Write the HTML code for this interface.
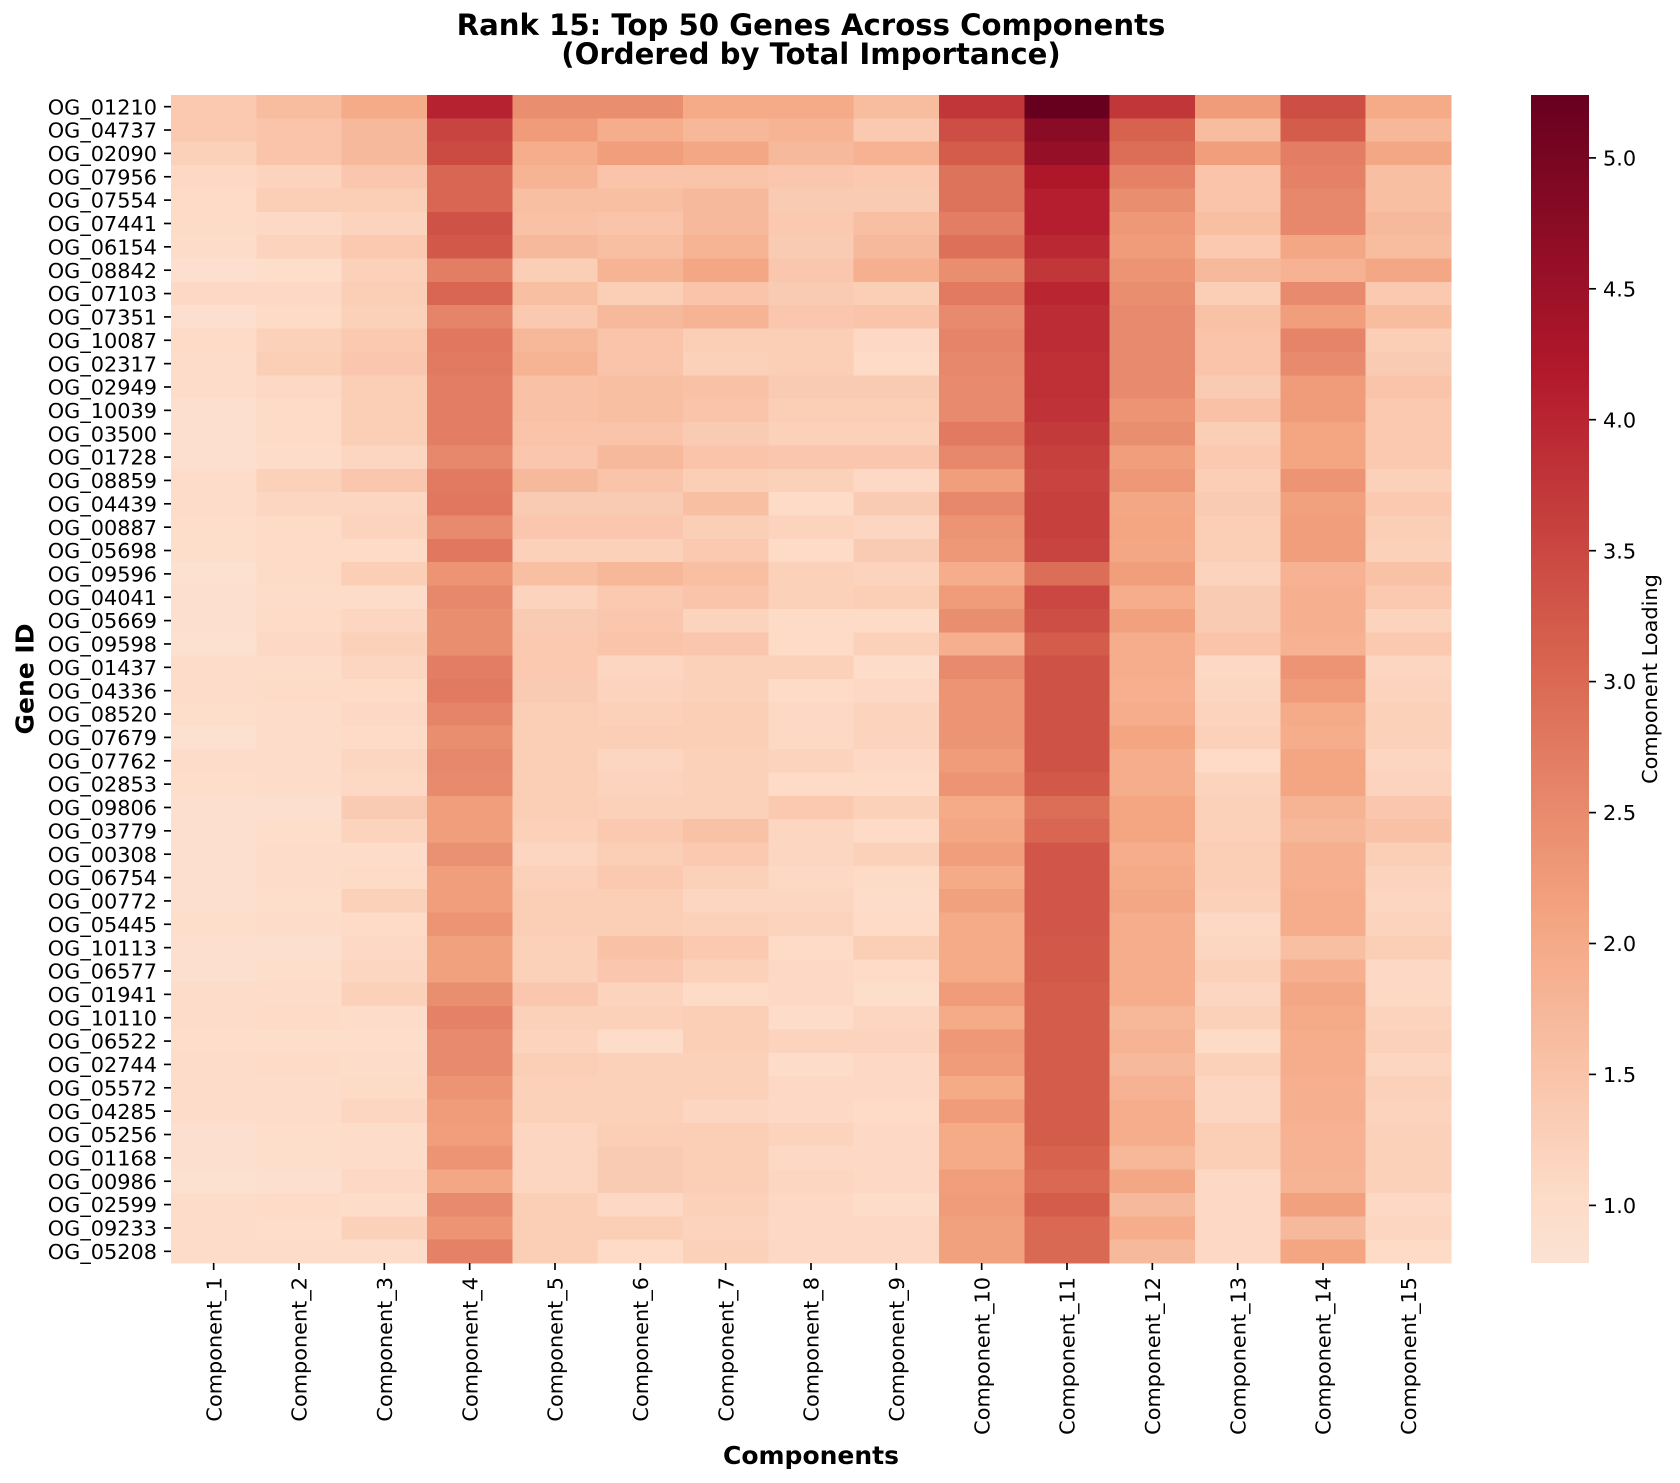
<!DOCTYPE html>
<html>
<head>
<meta charset="utf-8">
<style>
  html, body { margin: 0; padding: 0; background: #ffffff; }
  svg { display: block; }
  text { font-family: "DejaVu Sans", "Liberation Sans", sans-serif; fill: #000; }
  .tk { font-size: 20.83px; }
  .ttl { font-size: 29.17px; font-weight: bold; }
  .lab { font-size: 25px; font-weight: bold; }
</style>
</head>
<body>
<svg id="fig" width="1680" height="1483" viewBox="0 0 1680 1483" xmlns="http://www.w3.org/2000/svg">
  <defs>
    <linearGradient id="cbg" x1="0" y1="0" x2="0" y2="1">
      <stop offset="0" stop-color="#67001f"/>
      <stop offset="0.235" stop-color="#b2182b"/>
      <stop offset="0.47" stop-color="#d6604d"/>
      <stop offset="0.705" stop-color="#f4a582"/>
      <stop offset="0.94" stop-color="#fddbc7"/>
      <stop offset="1" stop-color="#fbe2d3"/>
    </linearGradient>
  </defs>
  <rect x="0" y="0" width="1680" height="1483" fill="#ffffff"/>

  <!-- Title -->
  <text class="ttl" x="811" y="35" text-anchor="middle">Rank 15: Top 50 Genes Across Components</text>
  <text class="ttl" x="811" y="64" text-anchor="middle">(Ordered by Total Importance)</text>

  <!-- heatmap cells -->
  <g id="cells" shape-rendering="crispEdges"></g>
  <!-- ticks -->
  <g id="ticks" stroke="#000" stroke-width="1.67"></g>

  <!-- Y tick labels -->
  <g class="tk" text-anchor="end">
    <text x="157" y="114.3">OG_01210</text>
    <text x="157" y="137.7">OG_04737</text>
    <text x="157" y="161.0">OG_02090</text>
    <text x="157" y="184.4">OG_07956</text>
    <text x="157" y="207.7">OG_07554</text>
    <text x="157" y="231.1">OG_07441</text>
    <text x="157" y="254.5">OG_06154</text>
    <text x="157" y="277.8">OG_08842</text>
    <text x="157" y="301.2">OG_07103</text>
    <text x="157" y="324.5">OG_07351</text>
    <text x="157" y="347.9">OG_10087</text>
    <text x="157" y="371.3">OG_02317</text>
    <text x="157" y="394.6">OG_02949</text>
    <text x="157" y="418.0">OG_10039</text>
    <text x="157" y="441.3">OG_03500</text>
    <text x="157" y="464.7">OG_01728</text>
    <text x="157" y="488.1">OG_08859</text>
    <text x="157" y="511.4">OG_04439</text>
    <text x="157" y="534.8">OG_00887</text>
    <text x="157" y="558.1">OG_05698</text>
    <text x="157" y="581.5">OG_09596</text>
    <text x="157" y="604.9">OG_04041</text>
    <text x="157" y="628.2">OG_05669</text>
    <text x="157" y="651.6">OG_09598</text>
    <text x="157" y="674.9">OG_01437</text>
    <text x="157" y="698.3">OG_04336</text>
    <text x="157" y="721.7">OG_08520</text>
    <text x="157" y="745.0">OG_07679</text>
    <text x="157" y="768.4">OG_07762</text>
    <text x="157" y="791.7">OG_02853</text>
    <text x="157" y="815.1">OG_09806</text>
    <text x="157" y="838.5">OG_03779</text>
    <text x="157" y="861.8">OG_00308</text>
    <text x="157" y="885.2">OG_06754</text>
    <text x="157" y="908.5">OG_00772</text>
    <text x="157" y="931.9">OG_05445</text>
    <text x="157" y="955.3">OG_10113</text>
    <text x="157" y="978.6">OG_06577</text>
    <text x="157" y="1002.0">OG_01941</text>
    <text x="157" y="1025.3">OG_10110</text>
    <text x="157" y="1048.7">OG_06522</text>
    <text x="157" y="1072.1">OG_02744</text>
    <text x="157" y="1095.4">OG_05572</text>
    <text x="157" y="1118.8">OG_04285</text>
    <text x="157" y="1142.1">OG_05256</text>
    <text x="157" y="1165.5">OG_01168</text>
    <text x="157" y="1188.9">OG_00986</text>
    <text x="157" y="1212.2">OG_02599</text>
    <text x="157" y="1235.6">OG_09233</text>
    <text x="157" y="1258.9">OG_05208</text>
  </g>

  <!-- X tick labels -->
  <g class="tk" text-anchor="end">
    <text transform="translate(221.3,1277) rotate(-90)">Component_1</text>
    <text transform="translate(306.6,1277) rotate(-90)">Component_2</text>
    <text transform="translate(391.9,1277) rotate(-90)">Component_3</text>
    <text transform="translate(477.3,1277) rotate(-90)">Component_4</text>
    <text transform="translate(562.6,1277) rotate(-90)">Component_5</text>
    <text transform="translate(647.9,1277) rotate(-90)">Component_6</text>
    <text transform="translate(733.3,1277) rotate(-90)">Component_7</text>
    <text transform="translate(818.6,1277) rotate(-90)">Component_8</text>
    <text transform="translate(903.9,1277) rotate(-90)">Component_9</text>
    <text transform="translate(989.3,1277) rotate(-90)">Component_10</text>
    <text transform="translate(1074.6,1277) rotate(-90)">Component_11</text>
    <text transform="translate(1159.9,1277) rotate(-90)">Component_12</text>
    <text transform="translate(1245.3,1277) rotate(-90)">Component_13</text>
    <text transform="translate(1330.6,1277) rotate(-90)">Component_14</text>
    <text transform="translate(1415.9,1277) rotate(-90)">Component_15</text>
  </g>

  <!-- Axis labels -->
  <text class="lab" x="811" y="1464" text-anchor="middle">Components</text>
  <text class="lab" transform="translate(33.5,679) rotate(-90)" text-anchor="middle">Gene ID</text>

  <!-- Colorbar -->
  <rect x="1531" y="95" width="58" height="1168" fill="url(#cbg)"/>
  <g stroke="#000" stroke-width="1.67">
    <line x1="1589" y1="157.9" x2="1596" y2="157.9"/>
    <line x1="1589" y1="288.8" x2="1596" y2="288.8"/>
    <line x1="1589" y1="419.7" x2="1596" y2="419.7"/>
    <line x1="1589" y1="550.7" x2="1596" y2="550.7"/>
    <line x1="1589" y1="681.6" x2="1596" y2="681.6"/>
    <line x1="1589" y1="812.6" x2="1596" y2="812.6"/>
    <line x1="1589" y1="943.5" x2="1596" y2="943.5"/>
    <line x1="1589" y1="1074.4" x2="1596" y2="1074.4"/>
    <line x1="1589" y1="1205.4" x2="1596" y2="1205.4"/>
  </g>
  <g class="tk">
    <text x="1603" y="165.5">5.0</text>
    <text x="1603" y="296.4">4.5</text>
    <text x="1603" y="427.3">4.0</text>
    <text x="1603" y="558.3">3.5</text>
    <text x="1603" y="689.2">3.0</text>
    <text x="1603" y="820.2">2.5</text>
    <text x="1603" y="951.1">2.0</text>
    <text x="1603" y="1082.0">1.5</text>
    <text x="1603" y="1213.0">1.0</text>
  </g>
  <text class="tk" transform="translate(1657,679) rotate(-90)" text-anchor="middle">Component Loading</text>
</svg>

<script>
(function(){
  var V = [
  [1.4,1.65,2.0,4.05,2.45,2.45,2.0,2.0,1.65,3.75,5.24,3.75,2.25,3.4,2.0],
  [1.4,1.5,1.7,3.55,2.25,1.95,1.75,1.8,1.4,3.4,4.75,3.1,1.65,3.2,1.75],
  [1.25,1.5,1.7,3.45,1.95,2.2,2.05,1.7,1.85,3.2,4.6,2.95,2.2,2.7,2.05],
  [1.1,1.2,1.45,3.05,1.8,1.5,1.5,1.45,1.4,2.85,4.25,2.65,1.5,2.65,1.6],
  [1.05,1.3,1.3,3.05,1.6,1.6,1.7,1.35,1.35,2.85,4.1,2.45,1.5,2.55,1.6],
  [1.05,1.1,1.2,3.35,1.55,1.5,1.7,1.4,1.6,2.7,4.1,2.3,1.6,2.55,1.7],
  [1.0,1.2,1.4,3.25,1.7,1.6,1.8,1.35,1.7,2.9,3.95,2.25,1.4,2.05,1.65],
  [0.9,0.95,1.25,2.7,1.3,1.8,2.05,1.45,1.9,2.45,3.75,2.35,1.7,1.85,2.05],
  [1.1,1.1,1.3,3.05,1.6,1.3,1.5,1.35,1.3,2.75,4.0,2.45,1.3,2.5,1.4],
  [0.9,1.05,1.25,2.6,1.4,1.7,1.8,1.45,1.5,2.5,3.9,2.5,1.55,2.2,1.65],
  [1.05,1.25,1.4,2.8,1.75,1.5,1.3,1.3,1.1,2.6,3.9,2.5,1.5,2.6,1.3],
  [1.0,1.3,1.45,2.75,1.8,1.5,1.25,1.3,1.05,2.55,3.85,2.5,1.5,2.5,1.35],
  [1.0,1.1,1.3,2.7,1.55,1.6,1.55,1.35,1.35,2.5,3.85,2.5,1.35,2.25,1.5],
  [0.9,1.05,1.3,2.7,1.55,1.6,1.5,1.3,1.3,2.5,3.8,2.35,1.55,2.25,1.4],
  [0.9,1.05,1.3,2.7,1.5,1.5,1.35,1.25,1.25,2.75,3.7,2.45,1.3,2.1,1.4],
  [0.9,1.0,1.15,2.55,1.45,1.7,1.5,1.45,1.45,2.55,3.6,2.2,1.4,2.1,1.4],
  [1.0,1.25,1.45,2.75,1.7,1.5,1.3,1.25,1.1,2.2,3.55,2.3,1.3,2.35,1.25],
  [1.0,1.15,1.15,2.8,1.35,1.35,1.6,1.05,1.35,2.55,3.6,2.05,1.35,2.15,1.4],
  [0.95,1.05,1.2,2.5,1.45,1.45,1.3,1.2,1.15,2.35,3.6,2.1,1.3,2.2,1.3],
  [0.95,1.05,1.05,2.8,1.25,1.25,1.4,1.05,1.35,2.3,3.55,2.05,1.3,2.2,1.25],
  [0.85,1.05,1.3,2.35,1.6,1.75,1.6,1.25,1.2,1.95,2.95,2.2,1.2,1.85,1.55],
  [0.9,1.0,1.0,2.55,1.2,1.4,1.5,1.25,1.3,2.25,3.5,1.95,1.35,1.9,1.4],
  [0.9,1.05,1.15,2.45,1.35,1.45,1.2,1.05,1.05,2.45,3.4,2.15,1.35,1.9,1.2],
  [0.85,1.1,1.25,2.45,1.4,1.5,1.45,1.05,1.25,1.9,3.2,1.95,1.5,1.85,1.4],
  [1.0,1.0,1.15,2.7,1.4,1.15,1.25,1.25,1.0,2.5,3.35,1.95,1.1,2.35,1.15],
  [1.0,1.05,1.05,2.75,1.35,1.2,1.25,1.05,1.1,2.35,3.35,1.9,1.15,2.25,1.2],
  [0.95,1.0,1.1,2.6,1.3,1.25,1.3,1.1,1.2,2.35,3.35,1.95,1.2,2.0,1.25],
  [0.85,1.0,1.05,2.45,1.3,1.3,1.3,1.1,1.2,2.35,3.35,2.1,1.25,1.95,1.25],
  [1.0,1.0,1.15,2.55,1.3,1.15,1.25,1.2,1.1,2.25,3.35,1.95,1.05,2.1,1.15],
  [0.95,1.0,1.1,2.5,1.3,1.2,1.25,1.05,1.05,2.35,3.25,1.95,1.2,2.1,1.2],
  [0.9,0.9,1.35,2.2,1.3,1.25,1.25,1.4,1.25,2.0,2.95,2.1,1.25,1.8,1.45],
  [0.9,0.95,1.2,2.2,1.25,1.4,1.55,1.15,1.05,2.05,3.05,2.1,1.25,1.75,1.55],
  [0.9,1.0,1.0,2.4,1.15,1.3,1.4,1.15,1.25,2.2,3.3,1.95,1.3,1.9,1.3],
  [0.9,1.0,1.05,2.2,1.25,1.4,1.25,1.1,1.05,2.0,3.3,2.0,1.3,1.9,1.2],
  [0.9,0.95,1.25,2.2,1.3,1.3,1.15,1.15,1.0,2.15,3.3,2.05,1.25,1.95,1.15],
  [0.95,1.0,1.05,2.35,1.3,1.3,1.25,1.2,1.05,2.0,3.3,1.95,1.1,1.95,1.2],
  [0.9,0.9,1.1,2.15,1.25,1.55,1.4,1.05,1.3,2.0,3.25,1.95,1.15,1.6,1.3],
  [0.9,0.95,1.15,2.15,1.25,1.45,1.25,1.1,1.05,2.0,3.25,1.95,1.25,1.9,1.1],
  [1.0,1.0,1.25,2.45,1.45,1.2,1.05,1.1,0.95,2.25,3.2,1.95,1.15,2.05,1.1],
  [1.0,1.05,1.0,2.65,1.25,1.25,1.3,1.0,1.15,2.0,3.2,1.75,1.25,2.0,1.2],
  [0.95,0.95,0.95,2.5,1.2,1.0,1.3,1.2,1.2,2.3,3.2,1.8,1.05,1.95,1.25],
  [1.0,1.05,1.0,2.5,1.3,1.25,1.25,1.0,1.1,2.25,3.2,1.7,1.25,1.95,1.15],
  [1.0,1.0,1.05,2.35,1.25,1.25,1.25,1.1,1.1,2.0,3.2,1.85,1.15,1.9,1.25],
  [1.0,1.0,1.15,2.25,1.25,1.25,1.15,1.1,1.05,2.25,3.2,1.95,1.15,1.9,1.2],
  [0.9,0.95,1.0,2.2,1.15,1.3,1.3,1.2,1.1,2.0,3.2,1.95,1.3,1.85,1.25],
  [0.9,0.95,1.0,2.35,1.15,1.35,1.3,1.1,1.1,2.0,3.1,1.75,1.3,1.85,1.25],
  [0.85,0.9,1.1,2.05,1.15,1.35,1.3,1.15,1.1,2.2,3.0,2.05,1.1,1.8,1.25],
  [1.0,1.05,1.0,2.5,1.3,1.1,1.25,1.1,1.0,2.25,3.2,1.7,1.1,2.15,1.1],
  [1.0,0.95,1.25,2.35,1.3,1.3,1.2,1.1,1.1,2.15,3.0,1.95,1.1,1.7,1.15],
  [1.0,1.0,1.0,2.65,1.3,1.05,1.25,1.1,1.1,2.15,3.0,1.7,1.1,2.1,1.05]
  ];
  var A = [[5,48,97],[33,102,172],[67,147,195],[146,197,222],[209,229,240],[247,247,247],
           [253,219,199],[244,165,130],[214,96,77],[178,24,43],[103,0,31]];
  var VR = 5.24;
  function col(v){
    var t = 0.5 + v/(2*VR);
    if (t < 0) t = 0; if (t > 1) t = 1;
    var p = t*10, i = Math.floor(p); if (i >= 10) i = 9;
    var f = p - i, a = A[i], b = A[i+1];
    var r = Math.round(a[0]+(b[0]-a[0])*f), g = Math.round(a[1]+(b[1]-a[1])*f), bl = Math.round(a[2]+(b[2]-a[2])*f);
    return "rgb("+r+","+g+","+bl+")";
  }
  var NS = "http://www.w3.org/2000/svg";
  var cells = document.getElementById("cells");
  var ticks = document.getElementById("ticks");
  var x0 = 171, y0 = 95, cw = 1280/15, rh = 1168/50;
  for (var i = 0; i < 50; i++) {
    for (var j = 0; j < 15; j++) {
      var r = document.createElementNS(NS, "rect");
      var xa = x0 + j*cw, xb = x0 + (j+1)*cw, ya = y0 + i*rh, yb = y0 + (i+1)*rh;
      r.setAttribute("x", xa.toFixed(2));
      r.setAttribute("y", ya.toFixed(2));
      r.setAttribute("width", (xb-xa+0.6).toFixed(2));
      r.setAttribute("height", (yb-ya+0.6).toFixed(2));
      r.setAttribute("fill", col(V[i][j]));
      cells.appendChild(r);
    }
    var l = document.createElementNS(NS, "line");
    var yc = y0 + (i+0.5)*rh;
    l.setAttribute("x1", "164"); l.setAttribute("x2", "171");
    l.setAttribute("y1", yc.toFixed(2)); l.setAttribute("y2", yc.toFixed(2));
    ticks.appendChild(l);
  }
  for (var j = 0; j < 15; j++) {
    var l2 = document.createElementNS(NS, "line");
    var xc = x0 + (j+0.5)*cw;
    l2.setAttribute("x1", xc.toFixed(2)); l2.setAttribute("x2", xc.toFixed(2));
    l2.setAttribute("y1", "1263"); l2.setAttribute("y2", "1270");
    ticks.appendChild(l2);
  }
})();
</script>
</body>
</html>
